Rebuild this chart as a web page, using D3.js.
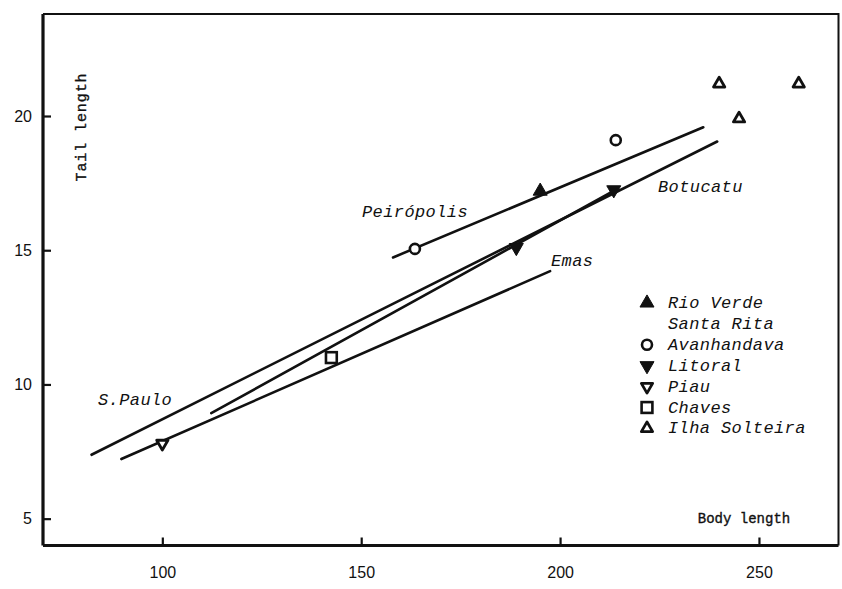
<!DOCTYPE html>
<html>
<head>
<meta charset="utf-8">
<script src="https://cdn.jsdelivr.net/npm/d3@7"></script>
<style>
  body { margin: 0; background: #fff; }
  svg { display: block; }
  .tick-label { font-family: "Liberation Sans", Arial, sans-serif; font-size: 16px; fill: #111; }
  .anno { font-family: "Liberation Mono", "DejaVu Sans Mono", monospace; font-style: italic; font-size: 17px; fill: #111; }
  .title { font-family: "Liberation Mono", "DejaVu Sans Mono", monospace; font-size: 15px; fill: #111; stroke: #111; stroke-width: 0.35px; }
</style>
</head>
<body>
<svg id="chart" width="842" height="589"></svg>
<script>
// ---- Data ----
const xTicks = [100, 150, 200, 250];
const yTicks = [5, 10, 15, 20];

const groups = ["Rio Verde", "Santa Rita", "Avanhandava", "Litoral", "Piau", "Chaves", "Ilha Solteira"];
const groupSymbols = ["triUpFilled", "none", "circleOpen", "triDownFilled", "triDownOpen", "squareOpen", "triUpOpen"];

const rioVerdeX = [195];          const rioVerdeY = [17.2];
const santaRitaX = [];            const santaRitaY = [];
const avanhandavaX = [163.5, 214]; const avanhandavaY = [15.05, 19.1];
const litoralX = [189, 213.5];    const litoralY = [15.1, 17.25];
const piauX = [100];              const piauY = [7.8];
const chavesX = [142.5];          const chavesY = [11.0];
const ilhaX = [240, 260, 245];    const ilhaY = [21.2, 21.2, 19.9];

const groupX = [rioVerdeX, santaRitaX, avanhandavaX, litoralX, piauX, chavesX, ilhaX];
const groupY = [rioVerdeY, santaRitaY, avanhandavaY, litoralY, piauY, chavesY, ilhaY];

// regression lines
const lineNames = ["S.Paulo", "Emas", "Botucatu", "Peirópolis"];
const lineX1 = [82.2, 89.7, 112.3, 158.0];
const lineY1 = [7.38, 7.22, 8.93, 14.73];
const lineX2 = [239.5, 197.5, 213.8, 236.0];
const lineY2 = [19.05, 14.22, 17.24, 19.58];

// ---- Layout ----
const svg = d3.select("#chart");
const mLeft = 43, mRight = 838.5, mTop = 14, mBottom = 545.5;

const x = d3.scaleLinear().domain([70, 270]).range([mLeft, mRight]);
const y = d3.scaleLinear().domain([4, 23.8]).range([mBottom, mTop]);

// frame (top & right borders)
svg.append("path")
  .attr("d", `M${mLeft},${mTop}H${mRight}V${mBottom}`)
  .attr("fill", "none").attr("stroke", "#111").attr("stroke-width", 2);

// axes
const xAxis = d3.axisBottom(x).tickValues(xTicks).tickSize(-8).tickPadding(21);
const yAxis = d3.axisLeft(y).tickValues(yTicks).tickSize(-8).tickPadding(11);

const gx = svg.append("g").attr("transform", `translate(0,${mBottom})`).call(xAxis);
const gy = svg.append("g").attr("transform", `translate(${mLeft},0)`).call(yAxis);
[gx, gy].forEach(g => {
  g.select(".domain").attr("stroke", "#111").attr("stroke-width", 3.2);
  g.selectAll(".tick line").attr("stroke", "#111").attr("stroke-width", 2.2);
  g.selectAll(".tick text").attr("class", "tick-label").attr("fill", "#111");
});
gx.select(".domain").attr("d", `M${mLeft},0H${mRight}`);
gy.select(".domain").attr("d", `M0,${mBottom}V${mTop}`);

// lines
const lineData = lineNames.map((n, i) => ({ n, x1: lineX1[i], y1: lineY1[i], x2: lineX2[i], y2: lineY2[i] }));
svg.append("g").selectAll("line").data(lineData).join("line")
  .attr("x1", d => x(d.x1)).attr("y1", d => y(d.y1))
  .attr("x2", d => x(d.x2)).attr("y2", d => y(d.y2))
  .attr("stroke", "#111").attr("stroke-width", 2.6).attr("stroke-linecap", "round");

// symbols
function drawSymbol(g, kind, cx, cy, scale) {
  const s = scale || 1;
  if (kind === "none") return;
  if (kind.startsWith("tri")) {
    const p = d3.symbol().type(d3.symbolTriangle).size((kind.endsWith("Filled") ? 85 : 55) * s)();
    const rot = kind.startsWith("triDown") ? 180 : 0;
    g.append("path").attr("d", p)
      .attr("transform", `translate(${cx},${cy}) rotate(${rot})`)
      .attr("fill", kind.endsWith("Filled") ? "#111" : "#fff")
      .attr("stroke", "#111").attr("stroke-width", kind.endsWith("Filled") ? 1 : 2.8)
      .attr("stroke-linejoin", "round");
  } else if (kind === "circleOpen") {
    g.append("circle").attr("cx", cx).attr("cy", cy).attr("r", 5 * Math.sqrt(s))
      .attr("fill", "#fff").attr("stroke", "#111").attr("stroke-width", 2.6);
  } else if (kind === "squareOpen") {
    const h = 5.4 * Math.sqrt(s);
    g.append("rect").attr("x", cx - h).attr("y", cy - h).attr("width", 2 * h).attr("height", 2 * h)
      .attr("fill", "#fff").attr("stroke", "#111").attr("stroke-width", 2.6);
  }
}

const gm = svg.append("g");
groups.forEach((name, gi) => {
  groupX[gi].forEach((vx, j) => drawSymbol(gm, groupSymbols[gi], x(vx), y(groupY[gi][j])));
});

// annotations (line names)
const annos = [
  { t: "Peirópolis", px: 362, py: 217 },
  { t: "Botucatu", px: 658, py: 192 },
  { t: "Emas", px: 551, py: 266 },
  { t: "S.Paulo", px: 98, py: 405 }
];
svg.append("g").selectAll("text").data(annos).join("text")
  .attr("class", "anno").attr("x", d => d.px).attr("y", d => d.py)
  .attr("letter-spacing", 0.4).text(d => d.t);

// legend
const lg = svg.append("g");
groups.forEach((name, i) => {
  const ly = 303 + i * 20.9;
  drawSymbol(lg, groupSymbols[i], 647, ly, 1);
  lg.append("text").attr("class", "anno").attr("x", 668).attr("y", ly + 5)
    .attr("letter-spacing", 0.4).text(name);
});

// axis titles
svg.append("text").attr("class", "title")
  .attr("transform", "translate(86,127) rotate(-90)")
  .attr("text-anchor", "middle").attr("letter-spacing", 0.9).text("Tail length");
svg.append("text").attr("class", "title")
  .attr("x", 744).attr("y", 523).attr("text-anchor", "middle")
  .style("font-size", "14px").text("Body length");
</script>
</body>
</html>
